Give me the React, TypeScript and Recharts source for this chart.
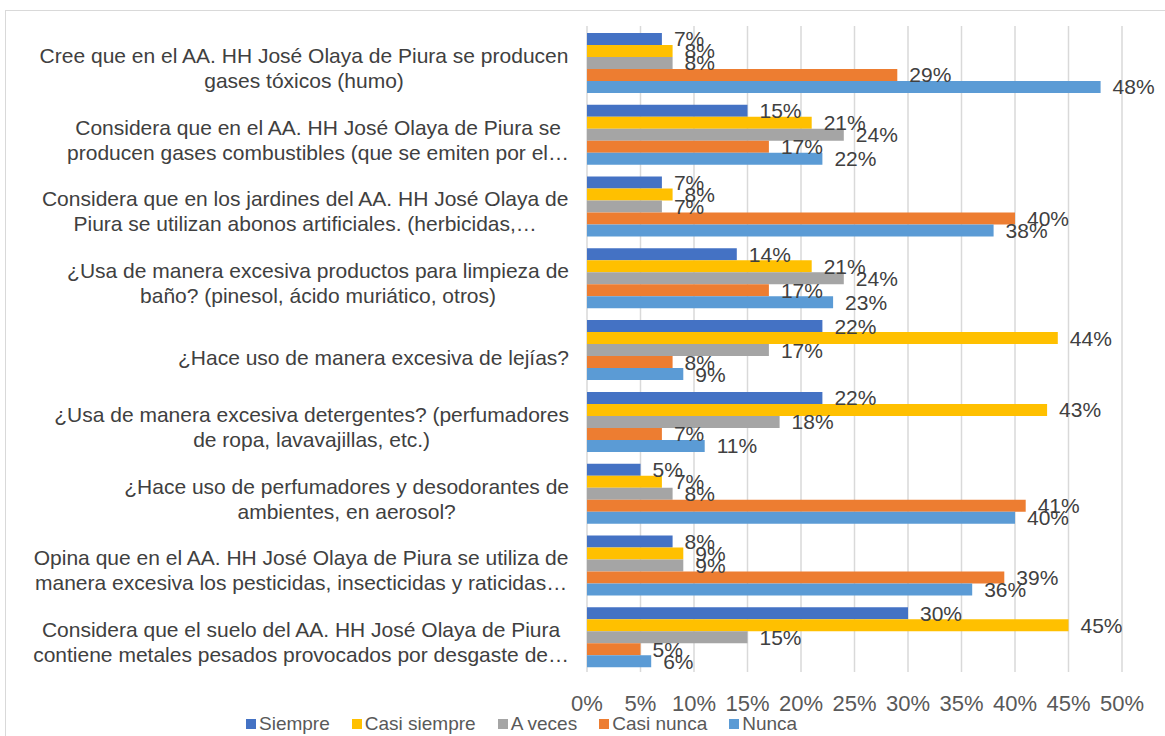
import React from 'react';
import { BarChart, Bar, XAxis, YAxis, CartesianGrid, LabelList } from 'recharts';

// question labels, already wrapped/truncated as in the original
const categoryLines = [
  ['Cree que en el AA. HH José Olaya de Piura se producen', 'gases tóxicos (humo)'],
  ['Considera que en el AA. HH José Olaya de Piura se', 'producen gases combustibles (que se emiten por el…'],
  ['Considera que en los jardines del AA. HH José Olaya de', 'Piura se utilizan abonos artificiales. (herbicidas,…'],
  ['¿Usa de manera excesiva productos para limpieza de', 'baño? (pinesol, ácido muriático, otros)'],
  ['¿Hace uso de manera excesiva de lejías?'],
  ['¿Usa de manera excesiva detergentes? (perfumadores', 'de ropa, lavavajillas, etc.)'],
  ['¿Hace uso de perfumadores y desodorantes de', 'ambientes, en aerosol?'],
  ['Opina que en el AA. HH José Olaya de Piura se utiliza de', 'manera excesiva los pesticidas, insecticidas y raticidas…'],
  ['Considera que el suelo del AA. HH José Olaya de Piura', 'contiene metales pesados provocados por desgaste de…'],
];

const seriesNames = ['Siempre', 'Casi siempre', 'A veces', 'Casi nunca', 'Nunca'];
const seriesColors = ['#4472C4', '#FFC000', '#A5A5A5', '#ED7D31', '#5B9BD5'];

const siempre = [7, 15, 7, 14, 22, 22, 5, 8, 30];
const casiSiempre = [8, 21, 8, 21, 44, 43, 7, 9, 45];
const aVeces = [8, 24, 7, 24, 17, 18, 8, 9, 15];
const casiNunca = [29, 17, 40, 17, 8, 7, 41, 39, 5];
const nunca = [48, 22, 38, 23, 9, 11, 40, 36, 6];

const xTicks = [0, 5, 10, 15, 20, 25, 30, 35, 40, 45, 50];

const seriesValues = [siempre, casiSiempre, aVeces, casiNunca, nunca];

const data = categoryLines.map((_, i) => {
  const row: Record<string, string | number> = { key: `q${i}` };
  seriesValues.forEach((vals, s) => {
    row[`s${s}`] = vals[i];
  });
  return row;
});

const FONT = "'Liberation Sans', Arial, sans-serif";
const CAT_SIZE = 21;
const LABEL_RIGHT = 569;

let ctx: CanvasRenderingContext2D | null = null;
function textWidth(s: string) {
  if (!ctx) ctx = document.createElement('canvas').getContext('2d');
  if (!ctx) return s.length * 10;
  ctx.font = `${CAT_SIZE}px ${FONT}`;
  return ctx.measureText(s).width;
}

const CategoryTick = (props: any) => {
  const { y, payload } = props;
  const idx = Number(String(payload.value).slice(1));
  const lines = categoryLines[idx] || [];
  const maxW = Math.max(...lines.map(textWidth));
  const cx = LABEL_RIGHT - maxW / 2;
  const startY = lines.length === 1 ? y + 16 : y + 1;
  return (
    <text x={cx} y={startY} textAnchor="middle" fontSize={CAT_SIZE} fontFamily={FONT} fill="#404040">
      {lines.map((l, i) => (
        <tspan key={i} x={cx} y={startY + i * 25}>
          {l}
        </tspan>
      ))}
    </text>
  );
};

const PercentTick = (props: any) => {
  const { x, y, payload } = props;
  return (
    <text x={x} y={y + 39} textAnchor="middle" fontSize={22} fontFamily={FONT} fill="#595959">
      {`${payload.value}%`}
    </text>
  );
};

export default function App() {
  return (
    <div style={{ position: 'absolute', left: 0, top: 0, width: 1165, height: 736, background: '#fff', overflow: 'hidden' }}>
      {/* chart frame */}
      <div
        style={{
          position: 'absolute',
          left: 5,
          top: 10,
          width: 1170,
          height: 740,
          border: '1.5px solid #D9D9D9',
          boxSizing: 'border-box',
        }}
      />
      <BarChart
        width={1165}
        height={736}
        data={data}
        layout="vertical"
        margin={{ top: 26, right: 43, bottom: 34, left: 7 }}
        barCategoryGap={7}
        barGap={0}
      >
        <CartesianGrid horizontal={false} stroke="#D9D9D9" strokeWidth={1.5} />
        <XAxis
          type="number"
          domain={[0, 50]}
          ticks={xTicks}
          axisLine={false}
          tickLine={false}
          tickSize={0}
          tickMargin={0}
          height={30}
          tick={<PercentTick />}
          interval={0}
        />
        <YAxis
          type="category"
          dataKey="key"
          width={580}
          axisLine={false}
          tickLine={false}
          tickSize={0}
          tickMargin={0}
          tick={<CategoryTick />}
          interval={0}
        />
        {seriesNames.map((name, s) => (
          <Bar key={name} dataKey={`s${s}`} name={name} fill={seriesColors[s]} isAnimationActive={false}>
            <LabelList
              dataKey={`s${s}`}
              position="right"
              offset={12}
              formatter={(v: any) => `${v}%`}
              style={{ fontSize: 21, fontFamily: FONT, fill: '#404040' }}
            />
          </Bar>
        ))}
      </BarChart>
      {/* legend */}
      <div
        style={{
          position: 'absolute',
          left: 246,
          top: 713,
          display: 'flex',
          gap: 22,
          fontFamily: FONT,
          fontSize: 19,
          color: '#595959',
          whiteSpace: 'nowrap',
        }}
      >
        {seriesNames.map((name, s) => (
          <div key={name} style={{ display: 'flex', alignItems: 'center' }}>
            <span style={{ display: 'inline-block', width: 10, height: 10, background: seriesColors[s], marginRight: 3 }} />
            {name}
          </div>
        ))}
      </div>
    </div>
  );
}
